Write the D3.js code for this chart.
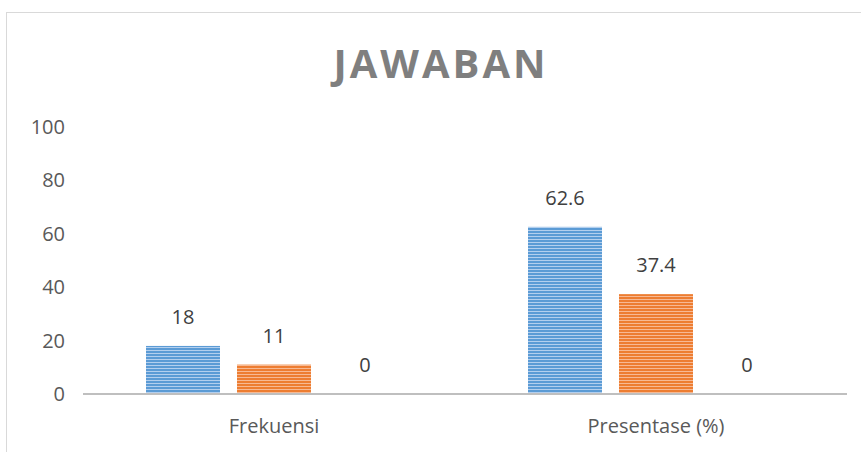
<!DOCTYPE html>
<html>
<head>
<meta charset="utf-8">
<script src="https://cdn.jsdelivr.net/npm/d3@7"></script>
<style>
  body { margin: 0; background: #fff; }
  text { font-family: "Open Sans", sans-serif; }
</style>
</head>
<body>
<svg></svg>
<script>
const categories = ['Frekuensi', 'Presentase (%)']
const seriesNames = ['Seri 1', 'Seri 2', 'Seri 3']
const seriesValues = [
    [18, 62.6],
    [11, 37.4],
    [0, 0]
]
const yTicks = [0, 20, 40, 60, 80, 100]

const
    svgWidth = 861,
    svgHeight = 452,
    plotLeft = 83,
    plotRight = 847,
    plotTop = 127,
    plotBottom = 394;

const colors = ['#5b9bd5', '#ed7d31', '#a5a5a5']
const stripes = ['#b3cfee', '#f7b993', '#d6d6d6']

let svg = d3.select('svg')
    .attr('width', svgWidth)
    .attr('height', svgHeight)

svg.append('rect')
    .attr('width', svgWidth).attr('height', svgHeight)
    .attr('fill', '#fff')

// chart frame
svg.append('rect')
    .attr('x', 6.5).attr('y', 12.5)
    .attr('width', 860).attr('height', 460)
    .attr('fill', 'none')
    .attr('stroke', '#d9d9d9')

// striped fills
let defs = svg.append('defs')
colors.forEach((c, i) => {
    let p = defs.append('pattern')
        .attr('id', 'stripe' + i)
        .attr('patternUnits', 'userSpaceOnUse')
        .attr('width', 6).attr('height', 3)
    p.append('rect').attr('width', 6).attr('height', 3).attr('fill', c)
    p.append('rect').attr('y', 2).attr('width', 6).attr('height', 1).attr('fill', stripes[i])
})

svg.append('text')
    .attr('x', 441).attr('y', 78)
    .attr('text-anchor', 'middle')
    .attr('fill', '#7f7f7f')
    .style('font-size', '40px')
    .style('font-weight', 'bold')
    .style('letter-spacing', '3px')
    .text('JAWABAN')

let y = d3.scaleLinear()
    .domain([0, 100])
    .range([plotBottom, plotTop])

let x0 = d3.scaleBand()
    .domain(categories)
    .range([plotLeft, plotRight])

let x1 = d3.scaleBand()
    .domain(d3.range(seriesNames.length))
    .range([63, x0.bandwidth() - 63])
    .paddingInner(0.187)

let yAxis = svg.append('g')
    .attr('transform', 'translate(69,0)')
    .call(d3.axisLeft(y).tickValues(yTicks).tickSize(0).tickPadding(4))
yAxis.select('.domain').remove()
yAxis.selectAll('text')
    .attr('fill', '#595959')
    .style('font-size', '20px')
    .style('font-family', '"Open Sans", sans-serif')

let groups = svg.selectAll('g.group')
    .data(categories)
    .enter()
    .append('g')
        .attr('class', 'group')
        .attr('transform', d => `translate(${x0(d)},0)`)

groups.selectAll('rect')
    .data((d, ci) => seriesValues.map((s, si) => ({si, v: s[ci]})))
    .enter()
    .append('rect')
        .attr('x', d => x1(d.si))
        .attr('width', x1.bandwidth())
        .attr('y', d => y(d.v))
        .attr('height', d => plotBottom - y(d.v))
        .attr('fill', d => `url(#stripe${d.si})`)

groups.selectAll('text.val')
    .data((d, ci) => seriesValues.map((s, si) => ({si, v: s[ci]})))
    .enter()
    .append('text')
        .attr('class', 'val')
        .attr('x', d => x1(d.si) + x1.bandwidth() / 2)
        .attr('y', d => y(d.v) - 22)
        .attr('text-anchor', 'middle')
        .attr('fill', '#404040')
        .style('font-size', '20px')
        .text(d => d.v)

// baseline
svg.append('line')
    .attr('x1', plotLeft).attr('x2', plotRight)
    .attr('y1', plotBottom).attr('y2', plotBottom)
    .attr('stroke', '#bfbfbf')
    .attr('stroke-width', 2)

svg.selectAll('text.cat')
    .data(categories)
    .enter()
    .append('text')
        .attr('class', 'cat')
        .attr('x', d => x0(d) + x0.bandwidth() / 2)
        .attr('y', 433)
        .attr('text-anchor', 'middle')
        .attr('fill', '#595959')
        .style('font-size', '20px')
        .text(d => d)
</script>
</body>
</html>
